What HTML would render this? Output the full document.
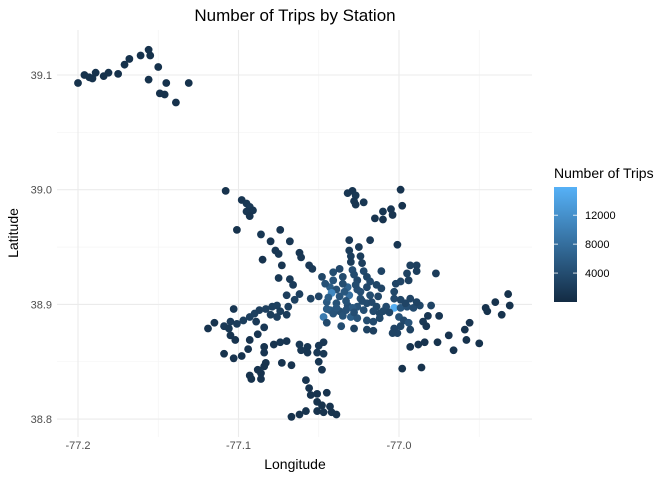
<!DOCTYPE html>
<html><head><meta charset="utf-8"><style>
body{margin:0;background:#fff;}
svg{display:block;font-family:"Liberation Sans",sans-serif;}
</style></head><body>
<svg id="c" width="672" height="480">
</svg>
<script>
const xTicks=[-77.2,-77.1,-77.0];
const xMinor=[-77.15,-77.05,-76.95];
const yTicks=[38.8,38.9,39.0,39.1];
const yMinor=[38.85,38.95,39.05];
const legendTicks=[4000,8000,12000];
const lon=[-77.108,-77.098,-77.095,-77.093,-77.095,-77.091,-77.093,-77.101,-77.086,-77.074,-77.080,-77.068,-77.077,-77.075,-77.085,-77.073,-77.062,-77.061,-77.056,-77.054,-77.075,-77.068,-77.066,-77.070,-77.062,-77.065,-77.055,-77.050,
-77.048,-77.041,-77.037,-77.029,-77.022,-77.020,-77.041,-77.035,-77.026,-77.043,-77.039,-77.032,-77.026,-77.020,-77.014,-77.011,-77.042,-77.037,-77.031,-77.024,-77.018,-77.013,-77.045,-77.039,-77.032,-77.026,-77.020,-77.014,-77.008,-77.043,-77.037,-77.029,-77.022,-77.016,-77.012,-77.047,-77.041,-77.030,-77.026,-77.020,-77.016,-77.012,-77.003,-76.999,-76.995,-76.991,-76.987,-76.980,-77.003,-76.999,-76.993,-76.989,-77.003,-77.002,-76.999,-76.994,-76.995,-76.993,-76.989,-76.989,-76.977,-77.011,-77.000,-76.997,-76.994,-76.999,-77.003,-77.001,-76.993,-77.004,-77.020,-77.016,-77.028,-77.036,-77.045,-77.031,-77.031,-77.025,-77.024,-77.023,-77.030,-77.030,-77.018,-77.001,
-77.032,-77.029,-77.027,-77.028,-77.027,-77.022,-77.015,-77.010,-77.010,-77.005,-77.004,-76.999,-76.998,
-77.119,-77.115,-77.109,-77.105,-77.106,-77.101,-77.097,-77.093,-77.090,-77.087,-77.083,-77.079,-77.076,-77.074,-77.080,-77.076,-77.070,-77.069,-77.103,-77.089,-77.084,-77.088,-77.105,-77.102,-77.093,-77.109,-77.103,-77.098,-77.094,-77.084,-77.084,-77.078,-77.074,-77.070,-77.062,-77.057,-77.061,-77.057,-77.050,-77.047,-77.051,-77.047,-77.050,-77.048,-77.073,-77.067,-77.083,-77.084,-77.088,-77.086,-77.093,-77.092,-77.086,-77.058,-77.056,-77.055,-77.051,-77.045,-77.051,-77.048,-77.043,-77.051,-77.047,-77.042,-77.039,-77.067,-77.062,-77.058,
-76.998,-76.986,-76.993,-76.988,-76.984,-76.976,-76.966,-76.958,-76.950,-76.969,-76.959,-76.956,-76.975,-76.982,-76.985,-76.983,-76.946,-76.945,-76.940,-76.932,-76.931,-76.936,
-77.200,-77.196,-77.193,-77.191,-77.189,-77.184,-77.181,-77.175,-77.171,-77.168,-77.161,-77.156,-77.155,-77.150,-77.156,-77.149,-77.146,-77.145,-77.139,-77.131,
-77.046,-77.035,-77.028,-77.018,-77.034,-77.024,-77.044,-77.033,-77.023,-77.017,-77.039,-77.028,-77.010,-77.035,-77.045,-77.006,-76.996,-77.033,-77.027];
const lat=[38.999,38.991,38.988,38.985,38.981,38.982,38.977,38.965,38.961,38.965,38.955,38.955,38.947,38.944,38.939,38.934,38.945,38.941,38.934,38.931,38.923,38.922,38.917,38.908,38.909,38.904,38.905,38.907,
38.924,38.928,38.931,38.930,38.929,38.924,38.921,38.924,38.921,38.915,38.913,38.915,38.913,38.915,38.917,38.914,38.910,38.907,38.908,38.905,38.908,38.907,38.902,38.901,38.899,38.898,38.901,38.898,38.898,38.895,38.894,38.897,38.895,38.894,38.892,38.889,38.892,38.889,38.888,38.886,38.885,38.888,38.897,38.897,38.898,38.897,38.899,38.899,38.905,38.904,38.905,38.902,38.911,38.918,38.920,38.921,38.927,38.934,38.934,38.929,38.927,38.929,38.889,38.886,38.884,38.881,38.879,38.875,38.878,38.875,38.878,38.877,38.879,38.881,38.884,38.956,38.947,38.950,38.942,38.936,38.942,38.937,38.956,38.952,
38.997,38.999,38.995,38.990,38.987,38.989,38.975,38.981,38.974,38.983,38.978,39.000,38.986,
38.879,38.884,38.881,38.885,38.879,38.883,38.886,38.889,38.892,38.895,38.896,38.898,38.899,38.894,38.891,38.889,38.891,38.898,38.896,38.885,38.880,38.874,38.873,38.869,38.869,38.857,38.853,38.855,38.861,38.863,38.858,38.865,38.867,38.868,38.865,38.863,38.860,38.858,38.864,38.867,38.858,38.857,38.850,38.843,38.849,38.847,38.849,38.846,38.843,38.840,38.838,38.835,38.835,38.834,38.827,38.821,38.822,38.823,38.815,38.812,38.811,38.807,38.806,38.806,38.804,38.802,38.804,38.807,
38.844,38.845,38.863,38.865,38.867,38.867,38.860,38.869,38.866,38.873,38.878,38.884,38.890,38.890,38.885,38.881,38.897,38.894,38.902,38.909,38.899,38.891,
39.093,39.100,39.098,39.097,39.102,39.099,39.102,39.101,39.109,39.114,39.117,39.122,39.117,39.107,39.096,39.084,39.083,39.093,39.076,39.093,
38.918,38.918,38.926,38.920,38.911,38.911,38.906,38.903,38.903,38.902,38.897,38.893,38.894,38.890,38.896,38.893,38.901,38.895,38.917];
const trips=[900,1200,1500,1800,1400,1300,1100,900,1500,1200,1100,1300,1400,1500,1000,1200,1300,1400,1600,1800,1500,1700,1900,2200,2400,2600,2800,3000,
3200,4000,3500,4200,3600,3200,5000,3800,3500,6000,4500,6500,4200,3500,3200,3000,11000,5000,8000,4400,4000,3300,5500,4500,4200,4800,3800,3400,3700,5200,4100,5500,4300,3600,3200,9500,4800,6000,4900,4000,3700,3400,15500,5000,4200,3700,3300,2900,3500,3100,3000,2800,3300,2900,3000,2500,2700,2500,2400,2200,2000,2900,4500,3600,4800,3200,3000,2900,2700,2800,2700,2500,2600,4000,3600,1600,2000,1800,2100,2300,2200,2000,1600,1300,
1400,1200,1500,1300,1200,1400,1100,1300,1000,1200,1100,1000,1000,
1000,1100,1700,1900,1500,2000,2200,2400,2500,2300,2500,2400,2600,2200,2100,2300,2000,2400,1300,1800,1600,1200,1100,1000,1000,900,1000,1000,1000,1100,1200,1100,1300,1200,1500,1400,1400,1300,1600,1400,1700,1500,1300,1200,1000,1000,1100,1000,1000,1000,900,900,1000,1100,1000,1000,1000,1000,900,900,1000,900,900,900,900,800,800,900,
900,900,1000,1000,1000,900,900,900,800,1000,900,1000,1200,1300,1400,1200,900,900,900,800,800,900,
800,800,800,800,800,800,800,800,800,800,800,800,800,800,800,800,800,800,800,800,
4500,4000,3800,3600,5200,4200,6000,4600,3800,3500,5000,4200,3400,4600,5800,3200,3000,4400,3900];
const NS='http://www.w3.org/2000/svg';
const svg=document.getElementById('c');
const P={l:57,r:532,t:30,b:437};
const xs=v=>78+(v+77.2)*1605;
const ys=v=>75+(39.1-v)*1147;
const cmax=15900,lg={x:554,y:187,w:23,h:115};
const ls=v=>lg.y+lg.h-(v/cmax)*lg.h;
function mk(t,a,txt){const e=document.createElementNS(NS,t);for(const k in a)e.setAttribute(k,a[k]);if(txt!=null)e.textContent=txt;svg.appendChild(e);return e;}
function col(v){const f=Math.max(0,Math.min(1,v/cmax));const a=[0x13,0x2B,0x43],b=[0x56,0xB1,0xF7];return 'rgb('+a.map((c,i)=>Math.round(c+(b[i]-c)*f)).join(',')+')';}
const defs=mk('defs',{});
defs.innerHTML='<linearGradient id="g" x1="0" y1="1" x2="0" y2="0"><stop offset="0" stop-color="#132B43"/><stop offset="1" stop-color="#56B1F7"/></linearGradient>';
xMinor.forEach(v=>{const e=mk('line',{x1:xs(v),x2:xs(v),y1:P.t,y2:P.b,stroke:'#f3f3f3','stroke-width':0.6});

});
yMinor.forEach(v=>{const e=mk('line',{x1:P.l,x2:P.r,y1:ys(v),y2:ys(v),stroke:'#f3f3f3','stroke-width':0.6});

});
xTicks.forEach(v=>{const e=mk('line',{x1:xs(v),x2:xs(v),y1:P.t,y2:P.b,stroke:'#ebebeb','stroke-width':1.1});


const t=mk('text',{x:xs(v),y:449,'text-anchor':'middle','font-size':11,fill:'#4d4d4d'},v.toFixed(1));

});
yTicks.forEach(v=>{const e=mk('line',{x1:P.l,x2:P.r,y1:ys(v),y2:ys(v),stroke:'#ebebeb','stroke-width':1.1});


const t=mk('text',{x:52,y:ys(v)+4,'text-anchor':'end','font-size':11,fill:'#4d4d4d'},v.toFixed(1));

});
lon.forEach((v,i)=>{const e=mk('circle',{cx:xs(v),cy:ys(lat[i]),r:3.9,fill:col(trips[i])});

});
let e;
e=mk('text',{x:295,y:21,'text-anchor':'middle','font-size':17,fill:'#000'},'Number of Trips by Station');


e=mk('text',{x:295,y:469,'text-anchor':'middle','font-size':14,fill:'#000'},'Longitude');


e=mk('text',{x:18,y:233,'text-anchor':'middle','font-size':14,fill:'#000',transform:'rotate(-90 18 233)'},'Latitude');


e=mk('text',{x:554,y:178,'font-size':14,fill:'#000'},'Number of Trips');


e=mk('rect',{x:lg.x,y:lg.y,width:lg.w,height:lg.h,fill:'url(#g)'});


legendTicks.forEach(v=>{const y=ls(v);
const a=mk('line',{x1:lg.x,x2:lg.x+4,y1:y,y2:y,stroke:'#fff','stroke-width':0.8});


const b=mk('line',{x1:lg.x+lg.w-4,x2:lg.x+lg.w,y1:y,y2:y,stroke:'#fff','stroke-width':0.8});


const t=mk('text',{x:585,y:y+4,'font-size':11,fill:'#000'},String(v));

});
</script>
</body></html>
